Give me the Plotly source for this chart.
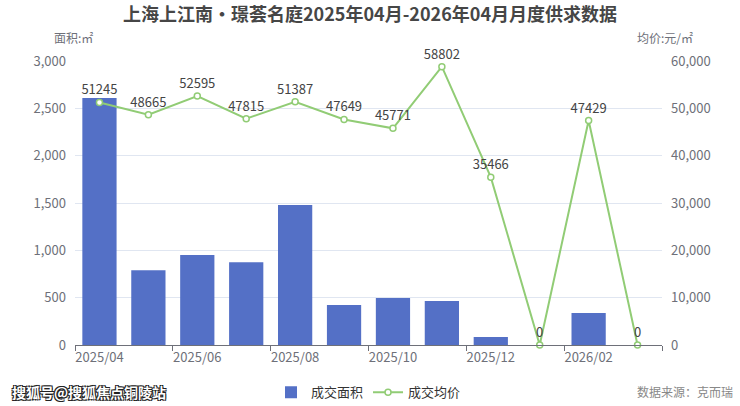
import plotly.graph_objects as go

months = ["2025/04", "2025/05", "2025/06", "2025/07", "2025/08", "2025/09",
          "2025/10", "2025/11", "2025/12", "2026/01", "2026/02", "2026/03"]
area = [2610, 790, 950, 875, 1480, 422, 496, 465, 85, 0, 338, 0]
price = [51245, 48665, 52595, 47815, 51387, 47649, 45771, 58802, 35466, 0, 47429, 0]

FONT = "Noto Sans CJK SC"
AXIS_GRAY = "#6e7079"

x = list(range(len(months)))

fig = go.Figure()

fig.add_trace(go.Bar(
    x=x, y=area, name="成交面积",
    marker=dict(color="#5470c6", line=dict(width=0)),
    width=0.7,
    yaxis="y",
))

fig.add_trace(go.Scatter(
    x=x, y=price, name="成交均价",
    mode="lines+markers+text",
    line=dict(color="#91cc75", width=2),
    marker=dict(symbol="circle", size=6, color="white",
                line=dict(color="#91cc75", width=1.5)),
    text=[str(v) for v in price],
    textposition="top center",
    textfont=dict(size=13, color="#444444", family=FONT),
    yaxis="y2",
    cliponaxis=False,
))

fig.update_layout(
    width=740, height=406,
    margin=dict(l=75, r=78, t=61, b=61),
    paper_bgcolor="white", plot_bgcolor="white",
    font=dict(family=FONT, color=AXIS_GRAY, size=13),
    title=dict(
        text="<b>上海上江南•璟荟名庭2025年04月-2026年04月月度供求数据</b>",
        x=0.5, xanchor="center", y=0.965, yanchor="middle",
        font=dict(size=18, color="#464646", family=FONT),
    ),
    xaxis=dict(
        range=[-0.5, 11.5],
        tickmode="array", tickvals=x[::2], ticktext=months[::2],
        ticks="", showgrid=False, zeroline=False,
        showline=True, linecolor=AXIS_GRAY, linewidth=1,
        tickfont=dict(size=13, color=AXIS_GRAY),
        minor=dict(tickmode="array", tickvals=[i - 0.5 for i in x[::2]] + [11.5],
                   ticks="outside", ticklen=5, tickcolor=AXIS_GRAY, showgrid=False),
    ),
    yaxis=dict(
        range=[0, 3000], dtick=500, tickformat=",",
        showgrid=True, gridcolor="#e0e6f1", zeroline=False,
        showline=False, ticks="", ticklabelstandoff=8,
        tickfont=dict(size=13, color=AXIS_GRAY),
    ),
    yaxis2=dict(
        range=[0, 60000], dtick=10000, tickformat=",",
        overlaying="y", side="right",
        showgrid=False, zeroline=False, showline=False, ticks="",
        ticklabelstandoff=8,
        tickfont=dict(size=13, color=AXIS_GRAY),
    ),
    legend=dict(
        orientation="h", x=0.5, xanchor="center",
        yref="container", y=0.034, yanchor="middle",
        font=dict(size=13, color="#333333"),
        itemwidth=30,
    ),
    bargap=0.3,
)

fig.add_annotation(text="面积:㎡", xref="paper", yref="paper",
                   x=-0.003, y=1.081, xanchor="center", yanchor="middle",
                   showarrow=False, font=dict(size=12, color=AXIS_GRAY))
fig.add_annotation(text="均价:元/㎡", xref="paper", yref="paper",
                   x=1.005, y=1.081, xanchor="center", yanchor="middle",
                   showarrow=False, font=dict(size=12, color=AXIS_GRAY))
fig.add_annotation(text="<b>搜狐号@搜狐焦点铜陵站</b>", xref="paper", yref="paper",
                   x=-0.111, y=-0.165, xanchor="left", yanchor="middle",
                   showarrow=False,
                   font=dict(size=14, color="white", family=FONT,
                             shadow="-1px -1px 0 #222, 1px -1px 0 #222, -1px 1px 0 #222, 1px 1px 0 #222"))
fig.add_annotation(text="数据来源：克而瑞", xref="paper", yref="paper",
                   x=1.124, y=-0.165, xanchor="right", yanchor="middle",
                   showarrow=False, font=dict(size=12, color="#888888"))

fig.write_html("out.html", config={"displayModeBar": False},
               post_script="document.body.style.margin='0';")
